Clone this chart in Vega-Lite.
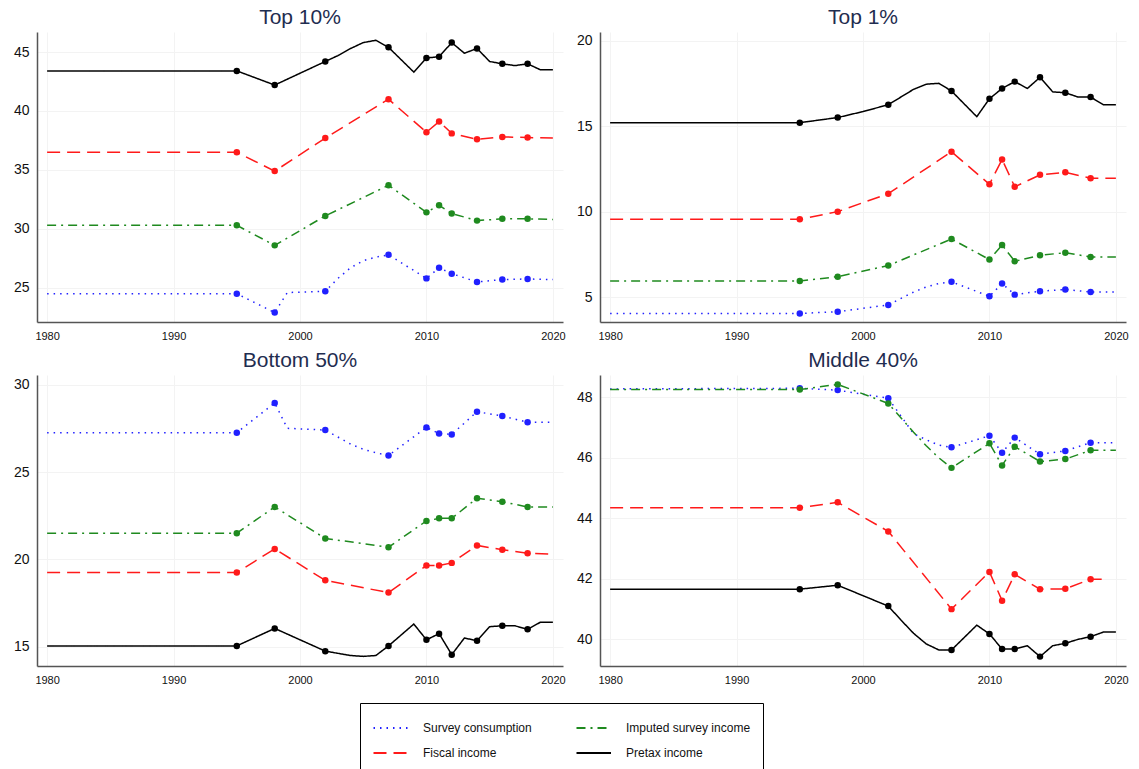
{
  "$schema": "https://vega.github.io/schema/vega-lite/v6.json",
  "background": "white",
  "padding": {"left": 13, "top": 7, "right": 5, "bottom": 0},
  "config": {
    "view": {"stroke": null},
    "font": "Liberation Sans",
    "title": {"font": "Liberation Sans", "fontSize": 21, "fontWeight": "normal", "color": "#1f2d50", "offset": 4},
    "axis": {"domainColor": "#555555", "domainWidth": 1.5, "ticks": false, "gridColor": "#f3f3f3", "gridWidth": 1, "labelColor": "#111111", "labelFont": "Liberation Sans", "title": null},
    "axisX": {"labelFontSize": 11, "labelPadding": 8},
    "axisY": {"labelFontSize": 14, "labelPadding": 8},
    "legend": {"symbolType": "M-1,0H2", "symbolSize": 529, "symbolStrokeWidth": 2.2, "labelFont": "Liberation Sans", "labelFontSize": 12, "labelColor": "#111111", "labelOffset": 25, "columns": 2, "columnPadding": 40, "rowPadding": 6, "strokeColor": "#000000", "padding": 12, "gridAlign": "each"}
  },
  "datasets": {
    "d": [
      {"g":"T10","s":"Pretax income","yr":1980,"v":43.4,"p":0},
      {"g":"T10","s":"Pretax income","yr":1995,"v":43.4,"p":1},
      {"g":"T10","s":"Pretax income","yr":1998,"v":42.2,"p":1},
      {"g":"T10","s":"Pretax income","yr":2002,"v":44.2,"p":1},
      {"g":"T10","s":"Pretax income","yr":2003,"v":44.7,"p":0},
      {"g":"T10","s":"Pretax income","yr":2004,"v":45.3,"p":0},
      {"g":"T10","s":"Pretax income","yr":2005,"v":45.8,"p":0},
      {"g":"T10","s":"Pretax income","yr":2006,"v":46.0,"p":0},
      {"g":"T10","s":"Pretax income","yr":2007,"v":45.4,"p":1},
      {"g":"T10","s":"Pretax income","yr":2009,"v":43.3,"p":0},
      {"g":"T10","s":"Pretax income","yr":2010,"v":44.5,"p":1},
      {"g":"T10","s":"Pretax income","yr":2011,"v":44.6,"p":1},
      {"g":"T10","s":"Pretax income","yr":2012,"v":45.8,"p":1},
      {"g":"T10","s":"Pretax income","yr":2013,"v":44.9,"p":0},
      {"g":"T10","s":"Pretax income","yr":2014,"v":45.3,"p":1},
      {"g":"T10","s":"Pretax income","yr":2015,"v":44.2,"p":0},
      {"g":"T10","s":"Pretax income","yr":2016,"v":44.0,"p":1},
      {"g":"T10","s":"Pretax income","yr":2017,"v":43.85,"p":0},
      {"g":"T10","s":"Pretax income","yr":2018,"v":44.0,"p":1},
      {"g":"T10","s":"Pretax income","yr":2019,"v":43.5,"p":0},
      {"g":"T10","s":"Pretax income","yr":2020,"v":43.5,"p":0},
      {"g":"T10","s":"Fiscal income","yr":1980,"v":36.5,"p":0},
      {"g":"T10","s":"Fiscal income","yr":1995,"v":36.5,"p":1},
      {"g":"T10","s":"Fiscal income","yr":1998,"v":34.9,"p":1},
      {"g":"T10","s":"Fiscal income","yr":2002,"v":37.7,"p":1},
      {"g":"T10","s":"Fiscal income","yr":2007,"v":41.0,"p":1},
      {"g":"T10","s":"Fiscal income","yr":2010,"v":38.2,"p":1},
      {"g":"T10","s":"Fiscal income","yr":2011,"v":39.1,"p":1},
      {"g":"T10","s":"Fiscal income","yr":2012,"v":38.1,"p":1},
      {"g":"T10","s":"Fiscal income","yr":2014,"v":37.6,"p":1},
      {"g":"T10","s":"Fiscal income","yr":2016,"v":37.8,"p":1},
      {"g":"T10","s":"Fiscal income","yr":2018,"v":37.75,"p":1},
      {"g":"T10","s":"Fiscal income","yr":2020,"v":37.7,"p":0},
      {"g":"T10","s":"Imputed survey income","yr":1980,"v":30.3,"p":0},
      {"g":"T10","s":"Imputed survey income","yr":1995,"v":30.3,"p":1},
      {"g":"T10","s":"Imputed survey income","yr":1998,"v":28.6,"p":1},
      {"g":"T10","s":"Imputed survey income","yr":2002,"v":31.1,"p":1},
      {"g":"T10","s":"Imputed survey income","yr":2007,"v":33.7,"p":1},
      {"g":"T10","s":"Imputed survey income","yr":2010,"v":31.4,"p":1},
      {"g":"T10","s":"Imputed survey income","yr":2011,"v":32.0,"p":1},
      {"g":"T10","s":"Imputed survey income","yr":2012,"v":31.3,"p":1},
      {"g":"T10","s":"Imputed survey income","yr":2014,"v":30.7,"p":1},
      {"g":"T10","s":"Imputed survey income","yr":2016,"v":30.85,"p":1},
      {"g":"T10","s":"Imputed survey income","yr":2018,"v":30.85,"p":1},
      {"g":"T10","s":"Imputed survey income","yr":2020,"v":30.8,"p":0},
      {"g":"T10","s":"Survey consumption","yr":1980,"v":24.5,"p":0},
      {"g":"T10","s":"Survey consumption","yr":1995,"v":24.5,"p":1},
      {"g":"T10","s":"Survey consumption","yr":1998,"v":22.9,"p":1},
      {"g":"T10","s":"Survey consumption","yr":1999,"v":24.6,"p":0},
      {"g":"T10","s":"Survey consumption","yr":2002,"v":24.7,"p":1},
      {"g":"T10","s":"Survey consumption","yr":2003,"v":25.8,"p":0},
      {"g":"T10","s":"Survey consumption","yr":2004,"v":26.7,"p":0},
      {"g":"T10","s":"Survey consumption","yr":2005,"v":27.3,"p":0},
      {"g":"T10","s":"Survey consumption","yr":2006,"v":27.6,"p":0},
      {"g":"T10","s":"Survey consumption","yr":2007,"v":27.8,"p":1},
      {"g":"T10","s":"Survey consumption","yr":2010,"v":25.8,"p":1},
      {"g":"T10","s":"Survey consumption","yr":2011,"v":26.7,"p":1},
      {"g":"T10","s":"Survey consumption","yr":2012,"v":26.2,"p":1},
      {"g":"T10","s":"Survey consumption","yr":2014,"v":25.5,"p":1},
      {"g":"T10","s":"Survey consumption","yr":2016,"v":25.7,"p":1},
      {"g":"T10","s":"Survey consumption","yr":2018,"v":25.75,"p":1},
      {"g":"T10","s":"Survey consumption","yr":2020,"v":25.7,"p":0},

      {"g":"T1","s":"Pretax income","yr":1980,"v":15.2,"p":0},
      {"g":"T1","s":"Pretax income","yr":1995,"v":15.2,"p":1},
      {"g":"T1","s":"Pretax income","yr":1998,"v":15.5,"p":1},
      {"g":"T1","s":"Pretax income","yr":2000,"v":15.85,"p":0},
      {"g":"T1","s":"Pretax income","yr":2002,"v":16.25,"p":1},
      {"g":"T1","s":"Pretax income","yr":2003,"v":16.7,"p":0},
      {"g":"T1","s":"Pretax income","yr":2004,"v":17.15,"p":0},
      {"g":"T1","s":"Pretax income","yr":2005,"v":17.45,"p":0},
      {"g":"T1","s":"Pretax income","yr":2006,"v":17.5,"p":0},
      {"g":"T1","s":"Pretax income","yr":2007,"v":17.05,"p":1},
      {"g":"T1","s":"Pretax income","yr":2009,"v":15.55,"p":0},
      {"g":"T1","s":"Pretax income","yr":2010,"v":16.6,"p":1},
      {"g":"T1","s":"Pretax income","yr":2011,"v":17.2,"p":1},
      {"g":"T1","s":"Pretax income","yr":2012,"v":17.6,"p":1},
      {"g":"T1","s":"Pretax income","yr":2013,"v":17.2,"p":0},
      {"g":"T1","s":"Pretax income","yr":2014,"v":17.85,"p":1},
      {"g":"T1","s":"Pretax income","yr":2015,"v":17.0,"p":0},
      {"g":"T1","s":"Pretax income","yr":2016,"v":16.95,"p":1},
      {"g":"T1","s":"Pretax income","yr":2017,"v":16.7,"p":0},
      {"g":"T1","s":"Pretax income","yr":2018,"v":16.7,"p":1},
      {"g":"T1","s":"Pretax income","yr":2019,"v":16.25,"p":0},
      {"g":"T1","s":"Pretax income","yr":2020,"v":16.25,"p":0},
      {"g":"T1","s":"Fiscal income","yr":1980,"v":9.55,"p":0},
      {"g":"T1","s":"Fiscal income","yr":1995,"v":9.55,"p":1},
      {"g":"T1","s":"Fiscal income","yr":1998,"v":10.0,"p":1},
      {"g":"T1","s":"Fiscal income","yr":2002,"v":11.05,"p":1},
      {"g":"T1","s":"Fiscal income","yr":2007,"v":13.5,"p":1},
      {"g":"T1","s":"Fiscal income","yr":2010,"v":11.6,"p":1},
      {"g":"T1","s":"Fiscal income","yr":2011,"v":13.05,"p":1},
      {"g":"T1","s":"Fiscal income","yr":2012,"v":11.45,"p":1},
      {"g":"T1","s":"Fiscal income","yr":2014,"v":12.15,"p":1},
      {"g":"T1","s":"Fiscal income","yr":2016,"v":12.3,"p":1},
      {"g":"T1","s":"Fiscal income","yr":2018,"v":11.95,"p":1},
      {"g":"T1","s":"Fiscal income","yr":2020,"v":11.95,"p":0},
      {"g":"T1","s":"Imputed survey income","yr":1980,"v":5.95,"p":0},
      {"g":"T1","s":"Imputed survey income","yr":1995,"v":5.95,"p":1},
      {"g":"T1","s":"Imputed survey income","yr":1998,"v":6.2,"p":1},
      {"g":"T1","s":"Imputed survey income","yr":2002,"v":6.85,"p":1},
      {"g":"T1","s":"Imputed survey income","yr":2007,"v":8.4,"p":1},
      {"g":"T1","s":"Imputed survey income","yr":2010,"v":7.2,"p":1},
      {"g":"T1","s":"Imputed survey income","yr":2011,"v":8.05,"p":1},
      {"g":"T1","s":"Imputed survey income","yr":2012,"v":7.1,"p":1},
      {"g":"T1","s":"Imputed survey income","yr":2014,"v":7.45,"p":1},
      {"g":"T1","s":"Imputed survey income","yr":2016,"v":7.6,"p":1},
      {"g":"T1","s":"Imputed survey income","yr":2018,"v":7.35,"p":1},
      {"g":"T1","s":"Imputed survey income","yr":2020,"v":7.35,"p":0},
      {"g":"T1","s":"Survey consumption","yr":1980,"v":4.05,"p":0},
      {"g":"T1","s":"Survey consumption","yr":1995,"v":4.05,"p":1},
      {"g":"T1","s":"Survey consumption","yr":1998,"v":4.15,"p":1},
      {"g":"T1","s":"Survey consumption","yr":2002,"v":4.55,"p":1},
      {"g":"T1","s":"Survey consumption","yr":2004,"v":5.3,"p":0},
      {"g":"T1","s":"Survey consumption","yr":2005,"v":5.6,"p":0},
      {"g":"T1","s":"Survey consumption","yr":2006,"v":5.8,"p":0},
      {"g":"T1","s":"Survey consumption","yr":2007,"v":5.9,"p":1},
      {"g":"T1","s":"Survey consumption","yr":2010,"v":5.05,"p":1},
      {"g":"T1","s":"Survey consumption","yr":2011,"v":5.8,"p":1},
      {"g":"T1","s":"Survey consumption","yr":2012,"v":5.15,"p":1},
      {"g":"T1","s":"Survey consumption","yr":2014,"v":5.35,"p":1},
      {"g":"T1","s":"Survey consumption","yr":2016,"v":5.45,"p":1},
      {"g":"T1","s":"Survey consumption","yr":2018,"v":5.3,"p":1},
      {"g":"T1","s":"Survey consumption","yr":2020,"v":5.3,"p":0},

      {"g":"B50","s":"Survey consumption","yr":1980,"v":27.25,"p":0},
      {"g":"B50","s":"Survey consumption","yr":1995,"v":27.25,"p":1},
      {"g":"B50","s":"Survey consumption","yr":1998,"v":28.95,"p":1},
      {"g":"B50","s":"Survey consumption","yr":1999,"v":27.5,"p":0},
      {"g":"B50","s":"Survey consumption","yr":2002,"v":27.4,"p":1},
      {"g":"B50","s":"Survey consumption","yr":2004,"v":26.6,"p":0},
      {"g":"B50","s":"Survey consumption","yr":2005,"v":26.3,"p":0},
      {"g":"B50","s":"Survey consumption","yr":2006,"v":26.1,"p":0},
      {"g":"B50","s":"Survey consumption","yr":2007,"v":25.95,"p":1},
      {"g":"B50","s":"Survey consumption","yr":2010,"v":27.55,"p":1},
      {"g":"B50","s":"Survey consumption","yr":2011,"v":27.2,"p":1},
      {"g":"B50","s":"Survey consumption","yr":2012,"v":27.15,"p":1},
      {"g":"B50","s":"Survey consumption","yr":2014,"v":28.45,"p":1},
      {"g":"B50","s":"Survey consumption","yr":2016,"v":28.2,"p":1},
      {"g":"B50","s":"Survey consumption","yr":2018,"v":27.85,"p":1},
      {"g":"B50","s":"Survey consumption","yr":2020,"v":27.85,"p":0},
      {"g":"B50","s":"Imputed survey income","yr":1980,"v":21.5,"p":0},
      {"g":"B50","s":"Imputed survey income","yr":1995,"v":21.5,"p":1},
      {"g":"B50","s":"Imputed survey income","yr":1998,"v":23.0,"p":1},
      {"g":"B50","s":"Imputed survey income","yr":2002,"v":21.2,"p":1},
      {"g":"B50","s":"Imputed survey income","yr":2007,"v":20.7,"p":1},
      {"g":"B50","s":"Imputed survey income","yr":2010,"v":22.2,"p":1},
      {"g":"B50","s":"Imputed survey income","yr":2011,"v":22.35,"p":1},
      {"g":"B50","s":"Imputed survey income","yr":2012,"v":22.35,"p":1},
      {"g":"B50","s":"Imputed survey income","yr":2014,"v":23.5,"p":1},
      {"g":"B50","s":"Imputed survey income","yr":2016,"v":23.3,"p":1},
      {"g":"B50","s":"Imputed survey income","yr":2018,"v":23.0,"p":1},
      {"g":"B50","s":"Imputed survey income","yr":2020,"v":23.0,"p":0},
      {"g":"B50","s":"Fiscal income","yr":1980,"v":19.25,"p":0},
      {"g":"B50","s":"Fiscal income","yr":1995,"v":19.25,"p":1},
      {"g":"B50","s":"Fiscal income","yr":1998,"v":20.6,"p":1},
      {"g":"B50","s":"Fiscal income","yr":2002,"v":18.8,"p":1},
      {"g":"B50","s":"Fiscal income","yr":2007,"v":18.1,"p":1},
      {"g":"B50","s":"Fiscal income","yr":2010,"v":19.65,"p":1},
      {"g":"B50","s":"Fiscal income","yr":2011,"v":19.65,"p":1},
      {"g":"B50","s":"Fiscal income","yr":2012,"v":19.8,"p":1},
      {"g":"B50","s":"Fiscal income","yr":2014,"v":20.8,"p":1},
      {"g":"B50","s":"Fiscal income","yr":2016,"v":20.55,"p":1},
      {"g":"B50","s":"Fiscal income","yr":2018,"v":20.35,"p":1},
      {"g":"B50","s":"Fiscal income","yr":2020,"v":20.3,"p":0},
      {"g":"B50","s":"Pretax income","yr":1980,"v":15.05,"p":0},
      {"g":"B50","s":"Pretax income","yr":1995,"v":15.05,"p":1},
      {"g":"B50","s":"Pretax income","yr":1998,"v":16.05,"p":1},
      {"g":"B50","s":"Pretax income","yr":2002,"v":14.75,"p":1},
      {"g":"B50","s":"Pretax income","yr":2004,"v":14.5,"p":0},
      {"g":"B50","s":"Pretax income","yr":2005,"v":14.45,"p":0},
      {"g":"B50","s":"Pretax income","yr":2006,"v":14.5,"p":0},
      {"g":"B50","s":"Pretax income","yr":2007,"v":15.05,"p":1},
      {"g":"B50","s":"Pretax income","yr":2009,"v":16.3,"p":0},
      {"g":"B50","s":"Pretax income","yr":2010,"v":15.4,"p":1},
      {"g":"B50","s":"Pretax income","yr":2011,"v":15.75,"p":1},
      {"g":"B50","s":"Pretax income","yr":2012,"v":14.55,"p":1},
      {"g":"B50","s":"Pretax income","yr":2013,"v":15.5,"p":0},
      {"g":"B50","s":"Pretax income","yr":2014,"v":15.35,"p":1},
      {"g":"B50","s":"Pretax income","yr":2015,"v":16.15,"p":0},
      {"g":"B50","s":"Pretax income","yr":2016,"v":16.2,"p":1},
      {"g":"B50","s":"Pretax income","yr":2017,"v":16.2,"p":0},
      {"g":"B50","s":"Pretax income","yr":2018,"v":16.0,"p":1},
      {"g":"B50","s":"Pretax income","yr":2019,"v":16.4,"p":0},
      {"g":"B50","s":"Pretax income","yr":2020,"v":16.4,"p":0},

      {"g":"M40","s":"Survey consumption","yr":1980,"v":48.28,"p":0},
      {"g":"M40","s":"Survey consumption","yr":1995,"v":48.3,"p":1},
      {"g":"M40","s":"Survey consumption","yr":1998,"v":48.24,"p":1},
      {"g":"M40","s":"Survey consumption","yr":2002,"v":47.97,"p":1},
      {"g":"M40","s":"Survey consumption","yr":2004,"v":46.8,"p":0},
      {"g":"M40","s":"Survey consumption","yr":2005,"v":46.6,"p":0},
      {"g":"M40","s":"Survey consumption","yr":2006,"v":46.42,"p":0},
      {"g":"M40","s":"Survey consumption","yr":2007,"v":46.35,"p":1},
      {"g":"M40","s":"Survey consumption","yr":2010,"v":46.73,"p":1},
      {"g":"M40","s":"Survey consumption","yr":2011,"v":46.17,"p":1},
      {"g":"M40","s":"Survey consumption","yr":2012,"v":46.67,"p":1},
      {"g":"M40","s":"Survey consumption","yr":2014,"v":46.12,"p":1},
      {"g":"M40","s":"Survey consumption","yr":2016,"v":46.23,"p":1},
      {"g":"M40","s":"Survey consumption","yr":2018,"v":46.5,"p":1},
      {"g":"M40","s":"Survey consumption","yr":2020,"v":46.5,"p":0},
      {"g":"M40","s":"Imputed survey income","yr":1980,"v":48.26,"p":0},
      {"g":"M40","s":"Imputed survey income","yr":1995,"v":48.26,"p":1},
      {"g":"M40","s":"Imputed survey income","yr":1998,"v":48.43,"p":1},
      {"g":"M40","s":"Imputed survey income","yr":2002,"v":47.8,"p":1},
      {"g":"M40","s":"Imputed survey income","yr":2004,"v":46.85,"p":0},
      {"g":"M40","s":"Imputed survey income","yr":2005,"v":46.4,"p":0},
      {"g":"M40","s":"Imputed survey income","yr":2006,"v":46.0,"p":0},
      {"g":"M40","s":"Imputed survey income","yr":2007,"v":45.67,"p":1},
      {"g":"M40","s":"Imputed survey income","yr":2010,"v":46.48,"p":1},
      {"g":"M40","s":"Imputed survey income","yr":2011,"v":45.75,"p":1},
      {"g":"M40","s":"Imputed survey income","yr":2012,"v":46.37,"p":1},
      {"g":"M40","s":"Imputed survey income","yr":2014,"v":45.88,"p":1},
      {"g":"M40","s":"Imputed survey income","yr":2016,"v":45.96,"p":1},
      {"g":"M40","s":"Imputed survey income","yr":2018,"v":46.25,"p":1},
      {"g":"M40","s":"Imputed survey income","yr":2020,"v":46.25,"p":0},
      {"g":"M40","s":"Fiscal income","yr":1980,"v":44.35,"p":0},
      {"g":"M40","s":"Fiscal income","yr":1995,"v":44.35,"p":1},
      {"g":"M40","s":"Fiscal income","yr":1998,"v":44.53,"p":1},
      {"g":"M40","s":"Fiscal income","yr":2002,"v":43.57,"p":1},
      {"g":"M40","s":"Fiscal income","yr":2007,"v":41.0,"p":1},
      {"g":"M40","s":"Fiscal income","yr":2010,"v":42.23,"p":1},
      {"g":"M40","s":"Fiscal income","yr":2011,"v":41.28,"p":1},
      {"g":"M40","s":"Fiscal income","yr":2012,"v":42.15,"p":1},
      {"g":"M40","s":"Fiscal income","yr":2014,"v":41.66,"p":1},
      {"g":"M40","s":"Fiscal income","yr":2016,"v":41.67,"p":1},
      {"g":"M40","s":"Fiscal income","yr":2018,"v":41.99,"p":1},
      {"g":"M40","s":"Fiscal income","yr":2019,"v":41.99,"p":0},
      {"g":"M40","s":"Pretax income","yr":1980,"v":41.66,"p":0},
      {"g":"M40","s":"Pretax income","yr":1995,"v":41.66,"p":1},
      {"g":"M40","s":"Pretax income","yr":1998,"v":41.79,"p":1},
      {"g":"M40","s":"Pretax income","yr":2002,"v":41.1,"p":1},
      {"g":"M40","s":"Pretax income","yr":2003,"v":40.64,"p":0},
      {"g":"M40","s":"Pretax income","yr":2004,"v":40.2,"p":0},
      {"g":"M40","s":"Pretax income","yr":2005,"v":39.85,"p":0},
      {"g":"M40","s":"Pretax income","yr":2006,"v":39.65,"p":0},
      {"g":"M40","s":"Pretax income","yr":2007,"v":39.65,"p":1},
      {"g":"M40","s":"Pretax income","yr":2009,"v":40.47,"p":0},
      {"g":"M40","s":"Pretax income","yr":2010,"v":40.18,"p":1},
      {"g":"M40","s":"Pretax income","yr":2011,"v":39.68,"p":1},
      {"g":"M40","s":"Pretax income","yr":2012,"v":39.68,"p":1},
      {"g":"M40","s":"Pretax income","yr":2013,"v":39.79,"p":0},
      {"g":"M40","s":"Pretax income","yr":2014,"v":39.43,"p":1},
      {"g":"M40","s":"Pretax income","yr":2015,"v":39.79,"p":0},
      {"g":"M40","s":"Pretax income","yr":2016,"v":39.87,"p":1},
      {"g":"M40","s":"Pretax income","yr":2017,"v":40.0,"p":0},
      {"g":"M40","s":"Pretax income","yr":2018,"v":40.09,"p":1},
      {"g":"M40","s":"Pretax income","yr":2019,"v":40.24,"p":0},
      {"g":"M40","s":"Pretax income","yr":2020,"v":40.24,"p":0}
    ]
  },
  "data": {"name": "d"},
  "columns": 2,
  "bounds": "flush",
  "spacing": {"column": 37, "row": 53},
  "resolve": {"scale": {"color": "shared", "strokeDash": "shared"}},
  "concat": [
    {
      "title": "Top 10%",
      "width": 526, "height": 290,
      "transform": [{"filter": "datum.g === 'T10'"}],
      "layer": [
        {"mark": {"type": "line", "strokeWidth": 1.5},
         "encoding": {
           "x": {"field": "yr", "type": "quantitative", "scale": {"domain": [1979.2, 2020.8], "nice": false}, "axis": {"values": [1980, 1990, 2000, 2010, 2020], "format": "d"}},
           "y": {"field": "v", "type": "quantitative", "scale": {"domain": [22.1, 46.7], "nice": false, "zero": false}, "axis": {"values": [25, 30, 35, 40, 45]}},
           "color": {"field": "s", "type": "nominal", "scale": {"domain": ["Survey consumption", "Fiscal income", "Imputed survey income", "Pretax income"], "range": ["#2020ff", "#ff1a1a", "#1f8a1f", "#000000"]},
             "legend": {"title": null, "orient": "none", "legendX": 323, "legendY": 671}},
           "strokeDash": {"field": "s", "type": "nominal", "scale": {"domain": ["Survey consumption", "Fiscal income", "Imputed survey income", "Pretax income"], "range": [[1.5, 5], [13, 7], [9, 5, 2, 5], [1, 0]]},
             "legend": {"title": null, "orient": "none", "legendX": 323, "legendY": 671}}
         }},
        {"transform": [{"filter": "datum.p === 1"}],
         "mark": {"type": "circle", "size": 42, "opacity": 1},
         "encoding": {
           "x": {"field": "yr", "type": "quantitative"},
           "y": {"field": "v", "type": "quantitative"},
           "color": {"field": "s", "type": "nominal"}
         }}
      ]
    },
    {
      "title": "Top 1%",
      "width": 526, "height": 290,
      "transform": [{"filter": "datum.g === 'T1'"}],
      "layer": [
        {"mark": {"type": "line", "strokeWidth": 1.5},
         "encoding": {
           "x": {"field": "yr", "type": "quantitative", "scale": {"domain": [1979.2, 2020.8], "nice": false}, "axis": {"values": [1980, 1990, 2000, 2010, 2020], "format": "d"}},
           "y": {"field": "v", "type": "quantitative", "scale": {"domain": [3.55, 20.5], "nice": false, "zero": false}, "axis": {"values": [5, 10, 15, 20]}},
           "color": {"field": "s", "type": "nominal"},
           "strokeDash": {"field": "s", "type": "nominal"}
         }},
        {"transform": [{"filter": "datum.p === 1"}],
         "mark": {"type": "circle", "size": 42, "opacity": 1},
         "encoding": {
           "x": {"field": "yr", "type": "quantitative"},
           "y": {"field": "v", "type": "quantitative"},
           "color": {"field": "s", "type": "nominal"}
         }}
      ]
    },
    {
      "title": "Bottom 50%",
      "width": 526, "height": 291,
      "transform": [{"filter": "datum.g === 'B50'"}],
      "layer": [
        {"mark": {"type": "line", "strokeWidth": 1.5},
         "encoding": {
           "x": {"field": "yr", "type": "quantitative", "scale": {"domain": [1979.2, 2020.8], "nice": false}, "axis": {"values": [1980, 1990, 2000, 2010, 2020], "format": "d"}},
           "y": {"field": "v", "type": "quantitative", "scale": {"domain": [13.9, 30.55], "nice": false, "zero": false}, "axis": {"values": [15, 20, 25, 30]}},
           "color": {"field": "s", "type": "nominal"},
           "strokeDash": {"field": "s", "type": "nominal"}
         }},
        {"transform": [{"filter": "datum.p === 1"}],
         "mark": {"type": "circle", "size": 42, "opacity": 1},
         "encoding": {
           "x": {"field": "yr", "type": "quantitative"},
           "y": {"field": "v", "type": "quantitative"},
           "color": {"field": "s", "type": "nominal"}
         }}
      ]
    },
    {
      "title": "Middle 40%",
      "width": 526, "height": 291,
      "transform": [{"filter": "datum.g === 'M40'"}],
      "layer": [
        {"mark": {"type": "line", "strokeWidth": 1.5},
         "encoding": {
           "x": {"field": "yr", "type": "quantitative", "scale": {"domain": [1979.2, 2020.8], "nice": false}, "axis": {"values": [1980, 1990, 2000, 2010, 2020], "format": "d"}},
           "y": {"field": "v", "type": "quantitative", "scale": {"domain": [39.12, 48.74], "nice": false, "zero": false}, "axis": {"values": [40, 42, 44, 46, 48]}},
           "color": {"field": "s", "type": "nominal"},
           "strokeDash": {"field": "s", "type": "nominal"}
         }},
        {"transform": [{"filter": "datum.p === 1"}],
         "mark": {"type": "circle", "size": 42, "opacity": 1},
         "encoding": {
           "x": {"field": "yr", "type": "quantitative"},
           "y": {"field": "v", "type": "quantitative"},
           "color": {"field": "s", "type": "nominal"}
         }}
      ]
    }
  ]
}
